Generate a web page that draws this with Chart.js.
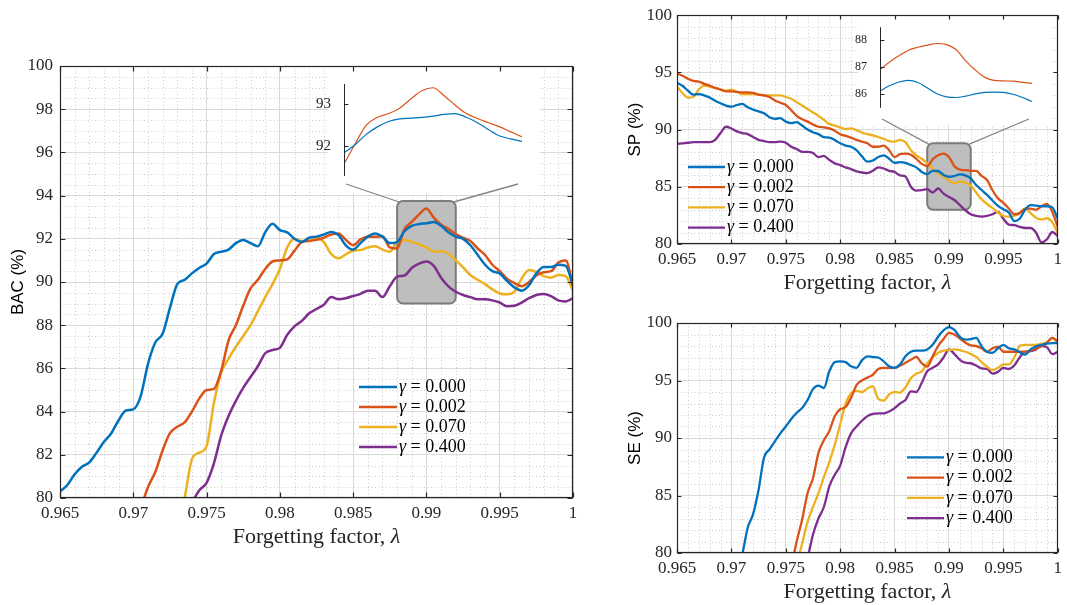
<!DOCTYPE html>
<html>
<head>
<meta charset="utf-8">
<title>Forgetting factor sweep</title>
<script src="https://cdn.jsdelivr.net/npm/chart.js@4.4.1/dist/chart.umd.min.js"></script>
<style>
  html, body { margin: 0; padding: 0; background: #fff; }
  #page { position: relative; width: 1067px; height: 605px; overflow: hidden; background: #fff; }
  #page canvas { position: absolute; }
</style>
</head>
<body>
<div id="page">
  <canvas id="bacChart" width="590" height="560" style="left:0;top:0"></canvas>
  <canvas id="spChart" width="447" height="300" style="left:620px;top:0"></canvas>
  <canvas id="seChart" width="447" height="305" style="left:620px;top:300px"></canvas>
  <canvas id="bacZoom" width="230" height="120" style="left:300px;top:70px"></canvas>
  <canvas id="spZoom" width="185" height="105" style="left:855px;top:15px"></canvas>
</div>
<script>
// forgetting factor grid shared by every curve (step 0.0005)
const lambda = [0.965, 0.9655, 0.966, 0.9665, 0.967, 0.9675, 0.968, 0.9685, 0.969, 0.9695,
    0.97, 0.9705, 0.971, 0.9715, 0.972, 0.9725, 0.973, 0.9735, 0.974, 0.9745,
    0.975, 0.9755, 0.976, 0.9765, 0.977, 0.9775, 0.978, 0.9785, 0.979, 0.9795,
    0.98, 0.9805, 0.981, 0.9815, 0.982, 0.9825, 0.983, 0.9835, 0.984, 0.9845,
    0.985, 0.9855, 0.986, 0.9865, 0.987, 0.9875, 0.988, 0.9885, 0.989, 0.9895,
    0.99, 0.9905, 0.991, 0.9915, 0.992, 0.9925, 0.993, 0.9935, 0.994, 0.9945,
    0.995, 0.9955, 0.996, 0.9965, 0.997, 0.9975, 0.998, 0.9985, 0.999, 0.9995, 1];

const lambdaTicks = [0.965, 0.97, 0.975, 0.98, 0.985, 0.99, 0.995, 1];
const bacTicks = [80, 82, 84, 86, 88, 90, 92, 94, 96, 98, 100];
const rateTicks = [80, 85, 90, 95, 100];
const gammaLabels = ["0.000", "0.002", "0.070", "0.400"];

// curves that come up from below 80 are listed from their first point and end at lambda = 1
const bacG000 = [80.3, 80.6, 81.1, 81.45, 81.65, 82.1, 82.6, 83.0, 83.6, 84.05,
    84.1, 84.7, 86.2, 87.2, 87.6, 88.8, 89.9, 90.1, 90.4, 90.65,
    90.85, 91.3, 91.4, 91.5, 91.8, 91.95, 91.8, 91.65, 92.3, 92.7,
    92.4, 92.3, 92.0, 91.85, 92.05, 92.1, 92.2, 92.32, 92.17, 91.7,
    91.5, 91.8, 92.1, 92.25, 92.1, 91.8, 91.85, 92.35, 92.6, 92.68,
    92.72, 92.78, 92.6, 92.3, 92.1, 92.0, 91.7, 91.25, 90.8, 90.5,
    90.4, 90.05, 89.75, 89.6, 89.85, 90.4, 90.7, 90.7, 90.8, 90.75,
    89.85];
const bacG002 = [79.5, 80.5, 81.2, 82.2, 83.0, 83.3, 83.5, 84.0, 84.6, 85.0,
    85.05, 85.9, 87.3, 88.0, 88.9, 89.7, 90.1, 90.6, 90.95, 91.0,
    91.05, 91.45, 91.85, 91.9, 91.95, 92.05, 92.2, 92.25, 91.95, 91.7,
    91.97, 92.1, 92.1, 92.12, 91.6, 91.55, 92.45, 92.78, 93.13, 93.4,
    92.98, 92.66, 92.46, 92.22, 92.05, 91.9, 91.55, 91.25, 90.8, 90.5,
    90.15, 89.95, 89.8, 90.0, 90.3, 90.45, 90.5, 90.9, 91.0, 89.85];
const bacG070 = [78.8, 80.0, 81.8, 82.1, 82.4, 84.4, 85.8, 86.45, 87.0, 87.5,
    88.0, 88.65, 89.3, 89.9, 90.6, 91.6, 92.0, 91.9, 91.9, 92.05,
    91.85, 91.3, 91.1, 91.28, 91.45, 91.48, 91.6, 91.66, 91.5, 91.4,
    91.86, 91.94, 91.86, 91.74, 91.6, 91.4, 91.43, 91.32, 91.0, 90.68,
    90.32, 90.1, 89.9, 89.66, 89.47, 89.43, 89.55, 90.17, 90.55, 90.47,
    90.27, 90.2, 90.32, 90.27, 89.6];
const bacG400 = [79.8, 80.35, 80.7, 81.6, 82.9, 83.8, 84.5, 85.1, 85.6, 86.1,
    86.7, 86.85, 86.95, 87.55, 87.95, 88.2, 88.55, 88.75, 88.95, 89.3,
    89.2, 89.25, 89.35, 89.45, 89.6, 89.6, 89.3, 89.8, 90.25, 90.3,
    90.65, 90.85, 90.95, 90.75, 90.2, 89.8, 89.55, 89.4, 89.3, 89.2,
    89.2, 89.15, 89.05, 88.88, 88.9, 89.05, 89.25, 89.4, 89.45, 89.35,
    89.15, 89.1, 89.25];

const spG000 = [94.1, 93.83, 93.4, 93.05, 93.1, 93.0, 92.8, 92.53, 92.3, 92.1,
    92.0, 92.15, 92.24, 91.95, 91.75, 91.6, 91.43, 91.08, 90.94, 91.0,
    90.7, 90.56, 90.65, 90.36, 90.0, 89.77, 89.6, 89.35, 89.3, 89.1,
    88.8, 88.6, 88.5, 88.2, 87.67, 87.2, 87.3, 87.6, 87.75, 87.45,
    87.1, 87.15, 87.1, 86.9, 86.7, 86.3, 86.1, 86.4, 86.38, 86.05,
    85.88, 85.95, 86.08, 86.0, 85.73, 85.15, 84.72, 84.3, 83.8, 83.33,
    83.04, 82.75, 82.0, 82.2, 83.0, 83.4, 83.35, 83.3, 83.3, 83.2,
    82.2];
const spG002 = [94.9, 94.7, 94.45, 94.25, 94.2, 94.0, 93.85, 93.65, 93.5, 93.35,
    93.35, 93.3, 93.25, 93.25, 93.2, 93.05, 93.0, 92.85, 92.55, 92.35,
    92.15, 91.7, 91.2, 90.9, 90.7, 90.45, 90.25, 90.2, 90.1, 89.9,
    89.6, 89.45, 89.3, 89.1, 88.95, 88.8, 88.5, 88.5, 88.6, 88.2,
    87.6, 87.85, 87.9, 87.8, 87.45, 87.0, 86.8, 87.4, 87.75, 87.9,
    87.6, 86.8, 86.5, 86.45, 86.4, 86.4, 85.95, 85.6, 84.7, 84.0,
    83.6, 83.1, 82.6, 82.7, 83.1, 83.1, 83.0, 83.3, 83.5, 82.8,
    81.5];
const spG070 = [93.75, 93.2, 92.8, 92.85, 93.5, 93.85, 93.75, 93.65, 93.5, 93.4,
    93.5, 93.3, 93.1, 93.1, 93.1, 93.05, 93.0, 93.0, 93.0, 93.0,
    92.85, 92.7, 92.4, 92.1, 91.8, 91.5, 91.2, 90.85, 90.5, 90.35,
    90.2, 90.05, 90.1, 89.95, 89.75, 89.6, 89.5, 89.35, 89.2, 89.0,
    88.95, 89.1, 88.9, 88.2, 87.75, 87.45, 87.05, 86.6, 86.2, 85.9,
    85.55, 85.3, 85.45, 85.35, 85.1, 84.5, 83.9, 83.5, 83.15, 82.75,
    82.45, 82.4, 82.45, 82.7, 83.1, 82.7, 82.3, 82.15, 82.25, 81.9,
    80.95];
const spG400 = [88.75, 88.8, 88.85, 88.9, 88.9, 88.9, 88.9, 89.1, 89.7, 90.25,
    90.1, 89.85, 89.7, 89.6, 89.35, 89.1, 89.0, 88.9, 88.9, 88.95,
    88.85, 88.5, 88.3, 88.05, 88.05, 87.95, 87.6, 87.7, 87.35, 87.05,
    86.9, 86.7, 86.55, 86.35, 86.25, 86.2, 86.4, 86.7, 86.6, 86.4,
    86.3, 86.0, 85.9, 85.0, 84.66, 84.7, 84.8, 84.5, 84.85, 84.4,
    84.1, 83.85, 83.4, 82.95, 82.6, 82.45, 82.4, 82.45, 82.6, 82.8,
    82.2, 81.7, 81.65, 81.5, 81.4, 81.4, 81.0, 80.15, 80.4, 81.05,
    80.7];

const seG000 = [78.5, 79.9, 82.2, 83.4, 85.5, 88.3, 89.0, 89.7, 90.4, 91.0,
    91.65, 92.2, 92.6, 93.3, 94.25, 94.55, 94.35, 95.8, 96.6, 96.66,
    96.6, 96.23, 96.1, 96.75, 97.1, 97.04, 97.0, 96.66, 96.23, 96.1,
    96.4, 97.1, 97.5, 97.6, 97.6, 97.7, 98.1, 98.8, 99.36, 99.65,
    99.4, 98.8, 98.55, 98.6, 98.7, 97.97, 97.5, 97.4, 97.8, 98.1,
    97.8, 97.7, 97.45, 97.25, 97.7, 97.97, 98.1, 98.2, 98.25, 98.25];
const seG002 = [78.7, 81.0, 82.9, 85.2, 86.5, 88.7, 89.8, 90.6, 91.9, 92.5,
    92.7, 93.5, 94.6, 95.0, 95.25, 95.5, 96.0, 96.1, 96.1, 96.1,
    96.3, 96.55, 96.8, 97.05, 96.5, 96.2, 97.1, 98.0, 98.6, 99.15,
    99.0, 98.65, 98.3, 98.05, 98.0, 97.8, 97.5, 97.8, 97.95, 97.5,
    97.5, 97.5, 97.5, 97.5, 97.6, 97.8, 98.0, 98.3, 98.7, 98.4];
const seG070 = [79.0, 80.8, 82.7, 84.0, 85.2, 86.6, 87.9, 89.4, 91.2, 93.0,
    93.9, 94.1, 94.0, 94.3, 94.5, 93.4, 93.25, 93.8, 94.0, 93.95,
    94.4, 95.2, 95.6, 95.8, 96.5, 97.0, 97.4, 97.6, 97.65, 97.7,
    97.65, 97.5, 97.3, 97.05, 96.6, 96.2, 95.9, 96.1, 96.4, 96.4,
    97.0, 98.0, 98.1, 98.1, 98.1, 98.2, 98.3, 98.7, 98.2];
const seG400 = [79.5, 81.6, 83.0, 84.0, 85.8, 86.8, 87.6, 89.2, 90.4, 91.0,
    91.5, 91.9, 92.1, 92.15, 92.15, 92.3, 92.6, 93.0, 93.3, 94.05,
    94.0, 94.8, 95.8, 96.1, 96.4, 97.0, 97.7, 97.3, 96.8, 96.55,
    96.5, 96.3, 96.05, 96.0, 95.6, 95.75, 96.1, 96.0, 96.3, 97.0,
    97.5, 97.55, 97.7, 98.0, 97.9, 97.3, 97.5];

// zoomed views of 0.988 <= lambda <= 0.992
const zoomLambda = [0.988, 0.98825, 0.9885, 0.98875, 0.989, 0.98925, 0.9895, 0.98975, 0.99,
    0.99025, 0.9905, 0.99075, 0.991, 0.99125, 0.9915, 0.99175, 0.992];
const bacZoomG000 = [91.84, 92.03, 92.28, 92.46, 92.59, 92.65, 92.67, 92.69, 92.72,
    92.76, 92.78, 92.69, 92.56, 92.39, 92.24, 92.17, 92.11];
const bacZoomG002 = [91.57, 92.05, 92.5, 92.69, 92.78, 92.91, 93.13, 93.33, 93.4,
    93.21, 92.98, 92.78, 92.66, 92.56, 92.46, 92.34, 92.22];
const spZoomG000 = [86.12, 86.31, 86.45, 86.51, 86.43, 86.23, 86.02, 85.9, 85.88,
    85.93, 86.01, 86.07, 86.08, 86.07, 86.0, 85.88, 85.73];
const spZoomG002 = [86.9, 87.19, 87.42, 87.62, 87.73, 87.81, 87.87, 87.83, 87.65,
    87.24, 86.9, 86.63, 86.51, 86.49, 86.48, 86.44, 86.4];
const bacZoomTicks = [92, 93];
const spZoomTicks = [86, 87, 88];

const COLORS = ["#0072BD", "#D95319", "#EDB120", "#7E2F8E"];
const SERIF = '"Liberation Serif", "Times New Roman", serif';
const SANS = '"Liberation Sans", Arial, sans-serif';
const INK = "#262626";

function seriesPoints(xs, values) {
    const offset = xs.length - values.length;
    return xs.map((x, i) => ({ x: x, y: i < offset ? null : values[i - offset] }));
}

function roundedRect(ctx, x, y, w, h, r) {
    ctx.beginPath();
    ctx.moveTo(x + r, y);
    ctx.arcTo(x + w, y, x + w, y + h, r);
    ctx.arcTo(x + w, y + h, x, y + h, r);
    ctx.arcTo(x, y + h, x, y, r);
    ctx.arcTo(x, y, x + w, y, r);
    ctx.closePath();
}

function minorValues(scale, step) {
    const out = [];
    const n = Math.round((scale.max - scale.min) / step);
    for (let i = 1; i < n; i++) {
        const v = scale.min + i * step;
        if (!scale.ticks.some(t => Math.abs(t.value - v) < step / 10)) out.push(v);
    }
    return out;
}

// MATLAB look: dotted minor grid, boxed axes with inward ticks, legend and labels
const matlabAxes = {
    id: "matlabAxes",
    beforeDatasetsDraw(chart, args, opts) {
        const { ctx, chartArea: a } = chart;
        const x = chart.scales.x, y = chart.scales.y;
        ctx.save();
        ctx.strokeStyle = "#cdcdcd";
        ctx.lineWidth = 1;
        ctx.setLineDash([1, 2.5]);
        ctx.beginPath();
        minorValues(x, opts.xMinor).forEach(v => {
            const px = Math.round(x.getPixelForValue(v)) + 0.5;
            ctx.moveTo(px, a.top);
            ctx.lineTo(px, a.bottom);
        });
        minorValues(y, opts.yMinor).forEach(v => {
            const py = Math.round(y.getPixelForValue(v)) + 0.5;
            ctx.moveTo(a.left, py);
            ctx.lineTo(a.right, py);
        });
        ctx.stroke();
        ctx.setLineDash([]);

        if (opts.inset) {
            const r = opts.inset;
            ctx.fillStyle = "#fff";
            ctx.fillRect(r.left, r.top, r.right - r.left, r.bottom - r.top);
            const z = opts.zoomBox;
            const left = x.getPixelForValue(z.x0), right = x.getPixelForValue(z.x1);
            const top = y.getPixelForValue(z.y1), bottom = y.getPixelForValue(z.y0);
            ctx.strokeStyle = "#858585";
            ctx.lineWidth = 1.3;
            ctx.beginPath();
            ctx.moveTo(r.from[0][0], r.from[0][1]);
            ctx.lineTo(left + 2, top + 1);
            ctx.moveTo(r.from[1][0], r.from[1][1]);
            ctx.lineTo(right - 2, top + 1);
            ctx.stroke();
            roundedRect(ctx, left, top, right - left, bottom - top, 6);
            ctx.fillStyle = "#bebebe";
            ctx.fill();
            ctx.lineWidth = 2;
            ctx.strokeStyle = "#7b7b7b";
            ctx.stroke();
        }
        ctx.restore();
    },
    afterDatasetsDraw(chart, args, opts) {
        const { ctx, chartArea: a } = chart;
        const x = chart.scales.x, y = chart.scales.y;
        const L = opts.tickLength;
        const l = Math.round(a.left) + 0.5, r = Math.round(a.right) - 0.5;
        const t = Math.round(a.top) + 0.5, b = Math.round(a.bottom) - 0.5;
        ctx.save();
        ctx.strokeStyle = INK;
        ctx.lineWidth = 1.2;
        ctx.strokeRect(l, t, r - l, b - t);
        ctx.beginPath();
        x.ticks.forEach(tk => {
            const px = Math.round(x.getPixelForValue(tk.value)) + 0.5;
            ctx.moveTo(px, b); ctx.lineTo(px, b - L);
            ctx.moveTo(px, t); ctx.lineTo(px, t + L);
        });
        y.ticks.forEach(tk => {
            const py = Math.round(y.getPixelForValue(tk.value)) + 0.5;
            ctx.moveTo(l, py); ctx.lineTo(l + L, py);
            ctx.moveTo(r, py); ctx.lineTo(r - L, py);
        });
        ctx.stroke();
        ctx.restore();
    },
    afterDraw(chart, args, opts) {
        const { ctx, chartArea: a } = chart;
        ctx.save();
        // legend
        const lg = opts.legend;
        chart.data.datasets.forEach((ds, i) => {
            const yy = lg.y + i * lg.dy;
            ctx.strokeStyle = ds.borderColor;
            ctx.lineWidth = ds.borderWidth;
            ctx.beginPath();
            ctx.moveTo(lg.x0, yy);
            ctx.lineTo(lg.x1, yy);
            ctx.stroke();
            const parts = ds.label.split(" = ");
            ctx.fillStyle = "#000";
            ctx.textAlign = "left";
            ctx.textBaseline = "middle";
            ctx.font = "italic 18px " + SERIF;
            ctx.fillText(parts[0], lg.x1 + 2, yy);
            const w = ctx.measureText(parts[0]).width;
            ctx.font = "18px " + SERIF;
            ctx.fillText(" = " + parts[1], lg.x1 + 2 + w, yy);
        });

        // x label with italic lambda
        const p1 = "Forgetting factor, ", p2 = "\u03bb";
        ctx.font = "22px " + SERIF;
        const w1 = ctx.measureText(p1).width;
        ctx.font = "italic 22px " + SERIF;
        const w2 = ctx.measureText(p2).width;
        const sx = (a.left + a.right) / 2 - (w1 + w2) / 2;
        const by = a.bottom + 44.5;
        ctx.fillStyle = INK;
        ctx.textBaseline = "alphabetic";
        ctx.textAlign = "left";
        ctx.font = "22px " + SERIF;
        ctx.fillText(p1, sx, by);
        ctx.font = "italic 22px " + SERIF;
        ctx.fillText(p2, sx + w1, by);

        // y label
        ctx.translate(a.left - 42, (a.top + a.bottom) / 2);
        ctx.rotate(-Math.PI / 2);
        ctx.font = "17px " + SANS;
        ctx.fillStyle = "#000";
        ctx.textAlign = "center";
        ctx.textBaseline = "middle";
        ctx.fillText(opts.yTitle, 0, 0);
        ctx.restore();
    }
};

const insetAxis = {
    id: "insetAxis",
    afterDatasetsDraw(chart, args, opts) {
        const { ctx, chartArea: a } = chart;
        const y = chart.scales.y;
        const l = Math.round(a.left) + 0.5;
        ctx.save();
        ctx.strokeStyle = INK;
        ctx.lineWidth = 1;
        ctx.beginPath();
        ctx.moveTo(l, a.top);
        ctx.lineTo(l, a.bottom);
        y.ticks.forEach(tk => {
            const py = Math.round(y.getPixelForValue(tk.value)) + 0.5;
            ctx.moveTo(l, py);
            ctx.lineTo(l + opts.tickLength, py);
        });
        ctx.stroke();
        ctx.restore();
    }
};

function createPanel(canvasId, cfg) {
    const datasets = cfg.series.map((values, i) => ({
        label: "\u03b3 = " + gammaLabels[i],
        data: seriesPoints(lambda, values),
        borderColor: COLORS[i],
        borderWidth: cfg.lineWidth,
        pointRadius: 0,
        fill: false,
        cubicInterpolationMode: "monotone"
    }));
    return new Chart(document.getElementById(canvasId).getContext("2d"), {
        type: "line",
        data: { datasets: datasets },
        options: {
            responsive: false,
            animation: false,
            events: [],
            layout: { padding: cfg.padding },
            scales: {
                x: {
                    type: "linear",
                    min: 0.965,
                    max: 1,
                    afterBuildTicks: s => { s.ticks = lambdaTicks.map(v => ({ value: v })); },
                    afterFit: s => { s.height = cfg.xAxisHeight; },
                    grid: { color: "#dadada", drawTicks: false },
                    border: { display: false },
                    ticks: {
                        padding: 5,
                        autoSkip: false,
                        maxRotation: 0,
                        color: INK,
                        font: { family: SERIF, size: 17 },
                        callback: v => String(+Number(v).toFixed(3))
                    }
                },
                y: {
                    min: 80,
                    max: 100,
                    afterBuildTicks: s => { s.ticks = cfg.yTicks.map(v => ({ value: v })); },
                    afterFit: s => { s.width = cfg.yAxisWidth; },
                    grid: { color: "#dadada", drawTicks: false },
                    border: { display: false },
                    ticks: {
                        padding: cfg.yPad,
                        color: INK,
                        font: { family: SERIF, size: 17 }
                    }
                }
            },
            plugins: {
                legend: { display: false },
                tooltip: { enabled: false },
                matlabAxes: {
                    xMinor: 0.001,
                    yMinor: cfg.yMinor,
                    tickLength: cfg.tickLength,
                    legend: cfg.legend,
                    yTitle: cfg.yTitle,
                    inset: cfg.inset || null,
                    zoomBox: cfg.zoomBox || null
                }
            }
        },
        plugins: [matlabAxes]
    });
}

function createZoom(canvasId, cfg) {
    const datasets = cfg.series.map((values, i) => ({
        label: "\u03b3 = " + gammaLabels[i],
        data: seriesPoints(zoomLambda, values),
        borderColor: COLORS[i],
        borderWidth: 1.2,
        pointRadius: 0,
        fill: false,
        cubicInterpolationMode: "monotone"
    }));
    return new Chart(document.getElementById(canvasId).getContext("2d"), {
        type: "line",
        data: { datasets: datasets },
        options: {
            responsive: false,
            animation: false,
            events: [],
            layout: { padding: cfg.padding },
            scales: {
                x: { type: "linear", min: 0.988, max: 0.992, display: false },
                y: {
                    min: cfg.yMin,
                    max: cfg.yMax,
                    afterBuildTicks: s => { s.ticks = cfg.yTicks.map(v => ({ value: v })); },
                    afterFit: s => { s.width = cfg.yAxisWidth; },
                    grid: { display: false },
                    border: { display: false },
                    ticks: { padding: cfg.yPad, color: INK, font: { family: SERIF, size: cfg.fontSize } }
                }
            },
            plugins: {
                legend: { display: false },
                tooltip: { enabled: false },
                insetAxis: { tickLength: 4 }
            }
        },
        plugins: [insetAxis]
    });
}

const bacChart = createPanel("bacChart", {
    series: [bacG000, bacG002, bacG070, bacG400],
    yTicks: bacTicks,
    yMinor: 0.5,
    lineWidth: 2.5,
    padding: { left: 0, top: 66, right: 17, bottom: 0 },
    yAxisWidth: 60,
    xAxisHeight: 62,
    yPad: 7,
    tickLength: 5,
    yTitle: "BAC (%)",
    legend: { x0: 359, x1: 397, y: 387, dy: 20 },
    inset: { left: 328, top: 66, right: 540, bottom: 193, from: [[346, 184], [518, 184]] },
    zoomBox: { x0: 0.988, x1: 0.992, y0: 89.0, y1: 93.75 }
});

const spChart = createPanel("spChart", {
    series: [spG000, spG002, spG070, spG400],
    yTicks: rateTicks,
    yMinor: 1,
    lineWidth: 2.3,
    padding: { left: 0, top: 14, right: 8, bottom: 0 },
    yAxisWidth: 57,
    xAxisHeight: 56,
    yPad: 5,
    tickLength: 4,
    yTitle: "SP (%)",
    legend: { x0: 68, x1: 105, y: 167, dy: 20.2 },
    inset: { left: 238, top: 14, right: 432, bottom: 125, from: [[262, 119], [409, 119]] },
    zoomBox: { x0: 0.988, x1: 0.992, y0: 83.0, y1: 88.8 }
});

const seChart = createPanel("seChart", {
    series: [seG000, seG002, seG070, seG400],
    yTicks: rateTicks,
    yMinor: 1,
    lineWidth: 2.3,
    padding: { left: 0, top: 23, right: 8, bottom: 0 },
    yAxisWidth: 57,
    xAxisHeight: 52,
    yPad: 5,
    tickLength: 4,
    yTitle: "SE (%)",
    legend: { x0: 287, x1: 324, y: 157.3, dy: 20.3 }
});

const bacZoom = createZoom("bacZoom", {
    series: [bacZoomG000, bacZoomG002],
    yMin: 91.28,
    yMax: 93.49,
    yTicks: bacZoomTicks,
    padding: { left: 0, top: 9, right: 8, bottom: 12 },
    yAxisWidth: 44,
    yPad: 5,
    fontSize: 15
});

const spZoom = createZoom("spZoom", {
    series: [spZoomG000, spZoomG002],
    yMin: 85.5,
    yMax: 88.47,
    yTicks: spZoomTicks,
    padding: { left: 0, top: 8, right: 8, bottom: 12 },
    yAxisWidth: 25,
    yPad: 5,
    fontSize: 12
});
</script>
</body>
</html>
